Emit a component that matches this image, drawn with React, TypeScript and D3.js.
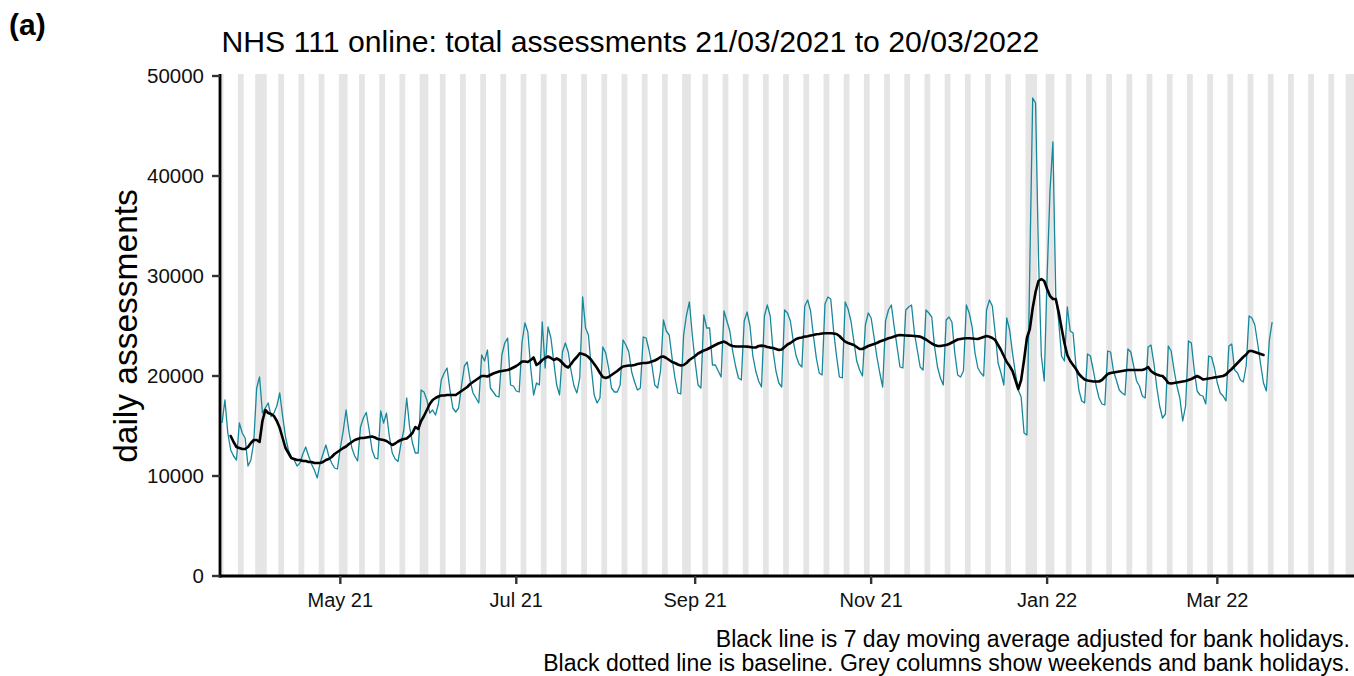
import React from "react";
import * as d3 from "d3";

// ---------- data ----------
const START_DATE = "2021-03-21"; // first daily value (a Sunday)

// Daily assessments, one row per week (Sun..Sat)
const dailyAssessments: number[] = [
  15300, 17600, 14300, 12600, 12000, 11600, 15300,
  14300, 13800, 11000, 11600, 13400, 18800, 19900,
  16300, 16800, 17300, 15950, 16300, 17000, 18300,
  16000, 13900, 12600, 11900, 11600, 11000, 11300,
  12200, 12900, 12000, 11200, 10600, 9800, 11300,
  12200, 13100, 12000, 11300, 10800, 10700, 12800,
  14500, 16600, 14400, 12800, 12000, 11500, 14900,
  15800, 16350, 14600, 12600, 11800, 11700, 16500,
  15300, 16300, 13950, 12300, 11700, 11450, 13200,
  14600, 17800, 14950, 13300, 12300, 12300, 18600,
  18400, 17600, 16300, 16600, 16100, 17200, 19600,
  20300, 20800, 18600, 16800, 16400, 16800, 19000,
  21000, 21400, 19500, 18300, 17800, 17300, 22100,
  21500, 22600, 18800, 18400, 18000, 17900, 22100,
  23300, 23800, 19100, 19000, 18500, 18400, 23400,
  25300, 24400, 20800, 18100, 19300, 19100, 25400,
  20800, 24900, 23800, 21400, 19100, 18100, 22400,
  23300, 22400, 20500, 19000, 18300, 19800, 27900,
  24800, 24100, 20800, 18100, 17300, 17800, 22900,
  22300, 20800, 18800, 18400, 18400, 19100, 23600,
  23100, 22400, 20400, 19400, 18600, 18800, 23900,
  23800, 22600, 21100, 19100, 18800, 20500, 25600,
  24500, 24100, 21800, 19800, 18300, 18200, 24100,
  26100, 27400, 24100, 21400, 19100, 18800, 26100,
  24800, 24800, 21100, 21100, 20500, 19900, 26500,
  25500, 24500, 22500, 21000, 19800, 19600, 25500,
  26400, 25000, 22000, 20500, 19500, 18900, 26000,
  27100, 26000, 22500, 20500, 19300, 18900, 26600,
  26300, 25500, 23500, 22000, 21200, 20900, 27000,
  27600, 26500, 24000, 21800, 20300, 20100, 27200,
  27900, 27700, 24500, 22000, 19900, 19800, 27400,
  26700, 25500, 23500, 21500, 20600, 20000, 25100,
  26300, 25800, 23900, 21900, 20300, 18900, 25500,
  26600, 27100, 24900, 22900, 20900, 20800, 26600,
  26900, 27100, 24300, 22600, 20900, 20600, 26600,
  26300, 25900, 22900, 20900, 19800, 19100, 25600,
  25900, 25400, 22300, 20100, 19900, 20500, 27100,
  26300, 24900, 22300, 20800, 20300, 20000, 26600,
  27600, 27000, 24300, 21300, 20300, 19100, 25800,
  24600, 22300, 20300, 18600, 17900, 14300, 14100,
  31000, 47800, 47300, 32000, 22000, 19500, 30000,
  38500, 43400, 28000, 25500, 22000, 21500, 26900,
  24500, 24300, 21000, 18600, 17500, 17300, 22200,
  22000, 20600, 19000, 17800, 17200, 17100, 22500,
  22400, 20500, 19600, 18600, 18300, 18100, 22700,
  22400, 21000, 19500, 19000, 18000, 17800, 22900,
  23100, 21300, 18900, 17000, 15800, 16200, 23000,
  22500, 20600, 19000, 17800, 15500, 17000, 23500,
  23300, 20600, 18500, 18100, 18000, 17200, 22000,
  21900, 20800, 19300, 18300, 18000, 17500, 23000,
  23200, 20600, 20300, 19600, 19400, 21000, 26000,
  25800, 25100, 23200, 21200, 19300, 18500, 23500,
  25400,
];

// 7 day moving average adjusted for bank holidays (same day alignment)
const movingAverage: (number | null)[] = [
  null, null, null, 14000, 13400, 12900, 12800,
  12700, 12700, 12900, 13300, 13600, 13600, 13400,
  15500, 16600, 16300, 16200, 16000, 15500, 14800,
  13800, 12800, 12300, 11800, 11700, 11600, 11600,
  11500, 11500, 11400, 11400, 11300, 11300, 11300,
  11400, 11600, 11700, 11900, 12200, 12400, 12600,
  12800, 12950, 13200, 13400, 13600, 13700, 13800,
  13800, 13850, 13900, 13950, 13850, 13700, 13650,
  13600, 13500, 13300, 13100, 13250, 13450, 13600,
  13700, 13750, 14000, 14300, 14900, 14700, 15500,
  16000, 16600, 17200, 17600, 17800, 17950, 18050,
  18050, 18100, 18100, 18100, 18100, 18300, 18500,
  18700, 18900, 19200, 19400, 19600, 19800, 20000,
  20000, 19950, 20100, 20250, 20350, 20450, 20500,
  20550, 20600, 20700, 20850, 21000, 21200, 21450,
  21450, 21400, 21600, 21850, 21100, 21300, 21600,
  21800, 21950, 21800, 21600, 21750, 21600, 21300,
  21000, 20850, 21200, 21600, 21900, 22270, 22200,
  22100, 21900, 21600, 21200, 20800, 20300, 19900,
  19800, 19900, 20100, 20300, 20500, 20750, 20950,
  21000, 21050, 21050, 21100, 21200, 21250, 21300,
  21300, 21350, 21450, 21550, 21700, 21900, 21950,
  21800, 21600, 21400, 21300, 21150, 21050, 21100,
  21300, 21600, 21800, 22000, 22250, 22400, 22550,
  22650, 22800, 22950, 23100, 23250, 23350, 23440,
  23300, 23100, 23000, 22950, 22950, 22950, 22950,
  22940, 22900, 22850, 22850, 23000, 23040, 23000,
  22900, 22840, 22800, 22700, 22600, 22650, 22900,
  23150, 23300, 23500, 23700, 23800, 23850, 23940,
  23980, 24050, 24100, 24170, 24200, 24250, 24270,
  24280, 24280, 24250, 24200, 24000, 23700, 23440,
  23300, 23200, 23100, 22900, 22700, 22700, 22850,
  23000, 23100, 23200, 23300, 23450, 23550, 23650,
  23770, 23850, 23950, 24050, 24100, 24080, 24050,
  24040, 24020, 24000, 23970, 23940, 23800, 23650,
  23450, 23250, 23100, 23000, 23000, 23050, 23100,
  23200, 23350, 23500, 23650, 23700, 23750, 23770,
  23770, 23750, 23720, 23700, 23800, 23900, 24000,
  23930, 23800, 23600, 23100, 22600, 22000, 21400,
  21000, 20500, 19600, 18700, 19600, 21600, 23800,
  24700, 26800, 28400, 29500, 29700, 29500, 28700,
  28000, 27700, 27700, 26400, 24800, 23300, 22100,
  21500, 21100, 20700, 20200, 19900, 19650, 19550,
  19500, 19450, 19450, 19450, 19600, 19900, 20200,
  20300, 20350, 20400, 20450, 20500, 20550, 20600,
  20600, 20600, 20600, 20600, 20600, 20700, 20890,
  20500, 20270, 20150, 20050, 20000, 19700, 19300,
  19250, 19300, 19350, 19400, 19450, 19500, 19600,
  19700, 19850, 20000, 19850, 19660, 19700, 19750,
  19800, 19860, 19900, 19950, 20000, 20150, 20450,
  20700, 21000, 21300, 21600, 21900, 22150, 22500,
  22500, 22400, 22300, 22200, 22100, null, null,
  null,
];

const yTicks = [0, 10000, 20000, 30000, 40000, 50000];
const xTickDates = ["2021-05-01", "2021-07-01", "2021-09-01", "2021-11-01", "2022-01-01", "2022-03-01"];
const xTickLabels = ["May 21", "Jul 21", "Sep 21", "Nov 21", "Jan 22", "Mar 22"];
const bankHolidays = [
  "2021-04-02", "2021-04-05", "2021-05-03", "2021-05-31", "2021-08-30",
  "2021-12-27", "2021-12-28", "2022-01-03", "2022-04-15", "2022-04-18",
];
const X_DOMAIN = ["2021-03-20T07:00:00Z", "2022-04-17T09:00:00Z"];
const COLUMN_RANGE = ["2021-03-20", "2022-04-25"];

const TITLE = "NHS 111 online: total assessments 21/03/2021 to 20/03/2022";
const Y_LABEL = "daily assessments";
const CAPTION_1 = "Black line is 7 day moving average adjusted for bank holidays.";
const CAPTION_2 = "Black dotted line is baseline. Grey columns show weekends and bank holidays.";

// ---------- layout ----------
const W = 1354;
const H = 676;
const PLOT = { left: 220, right: 1354, top: 74, bottom: 576 };
const FONT = "'Liberation Sans', Arial, Helvetica, sans-serif";

const parseDay = d3.utcParse("%Y-%m-%d");

export default function App() {
  const x = d3
    .scaleUtc()
    .domain(X_DOMAIN.map((s) => new Date(s)))
    .range([PLOT.left, PLOT.right]);
  const y = d3.scaleLinear().domain([0, 50000]).range([576, 76]);

  const start = parseDay(START_DATE)!;
  const dates = dailyAssessments.map((_, i) => d3.utcDay.offset(start, i));

  const dailyLine = d3
    .line<number>()
    .x((_, i) => x(dates[i]))
    .y((v) => y(v));
  const maLine = d3
    .line<number | null>()
    .defined((v) => v != null)
    .x((_, i) => x(dates[i]))
    .y((v) => y(v as number));

  // grey columns: weekends + bank holidays merged into runs
  const bh = new Set(bankHolidays);
  const fmt = d3.utcFormat("%Y-%m-%d");
  const days = d3.utcDay.range(parseDay(COLUMN_RANGE[0])!, parseDay(COLUMN_RANGE[1])!);
  const runs: [Date, Date][] = [];
  let cur: [Date, Date] | null = null;
  for (const d of days) {
    const wd = d.getUTCDay();
    const off = wd === 0 || wd === 6 || bh.has(fmt(d));
    if (off) {
      if (cur) cur[1] = d;
      else cur = [d, d];
    } else if (cur) {
      runs.push(cur);
      cur = null;
    }
  }
  if (cur) runs.push(cur);
  const half = 12 * 3600 * 1000;

  return (
    <svg
      width={W}
      height={H}
      style={{ position: "absolute", left: 0, top: 0, background: "#fff" }}
      fontFamily={FONT}
    >
      <defs>
        <clipPath id="plotclip">
          <rect x={PLOT.left} y={PLOT.top} width={PLOT.right - PLOT.left} height={PLOT.bottom - PLOT.top} />
        </clipPath>
      </defs>
      <rect x={0} y={0} width={W} height={H} fill="#fff" />

      <g clipPath="url(#plotclip)">
        {runs.map(([a, b], i) => {
          const x0 = x(new Date(+a - half));
          const x1 = x(new Date(+b + half));
          return (
            <rect key={i} x={x0} y={PLOT.top} width={x1 - x0} height={PLOT.bottom - PLOT.top} fill="#e5e5e5" />
          );
        })}
        <path d={dailyLine(dailyAssessments) || ""} fill="none" stroke="#17879b" strokeWidth={1.3} strokeLinejoin="round" />
        <path d={maLine(movingAverage) || ""} fill="none" stroke="#000" strokeWidth={2.6} strokeLinejoin="round" strokeLinecap="round" />
      </g>

      {/* axes */}
      <line x1={PLOT.left} x2={PLOT.left} y1={PLOT.top} y2={577.5} stroke="#000" strokeWidth={2.8} />
      <line x1={PLOT.left - 1.4} x2={PLOT.right} y1={576} y2={576} stroke="#000" strokeWidth={2.8} />

      {yTicks.map((t) => (
        <g key={t}>
          <line x1={PLOT.left - 8} x2={PLOT.left} y1={y(t)} y2={y(t)} stroke="#333" strokeWidth={2.4} />
          <text x={204} y={y(t)} dy="0.36em" textAnchor="end" fontSize={20.5} fill="#111">
            {t}
          </text>
        </g>
      ))}

      {xTickDates.map((s, i) => {
        const xx = x(parseDay(s)!);
        return (
          <g key={s}>
            <line x1={xx} x2={xx} y1={576} y2={584} stroke="#333" strokeWidth={2.4} />
            <text x={xx} y={607} textAnchor="middle" fontSize={20} fill="#111">
              {xTickLabels[i]}
            </text>
          </g>
        );
      })}

      {/* titles */}
      <text x={9} y={35} fontSize={30} fontWeight="bold" fill="#000">
        (a)
      </text>
      <text x={221.5} y={52} fontSize={30.2} fill="#000">
        {TITLE}
      </text>
      <text
        transform={`translate(137, ${(PLOT.top + PLOT.bottom) / 2 + 1}) rotate(-90)`}
        textAnchor="middle"
        fontSize={33.5}
        fill="#000"
      >
        {Y_LABEL}
      </text>
      <text x={1350} y={647} textAnchor="end" fontSize={23} fill="#000">
        {CAPTION_1}
      </text>
      <text x={1350} y={671} textAnchor="end" fontSize={23} fill="#000">
        {CAPTION_2}
      </text>
    </svg>
  );
}
